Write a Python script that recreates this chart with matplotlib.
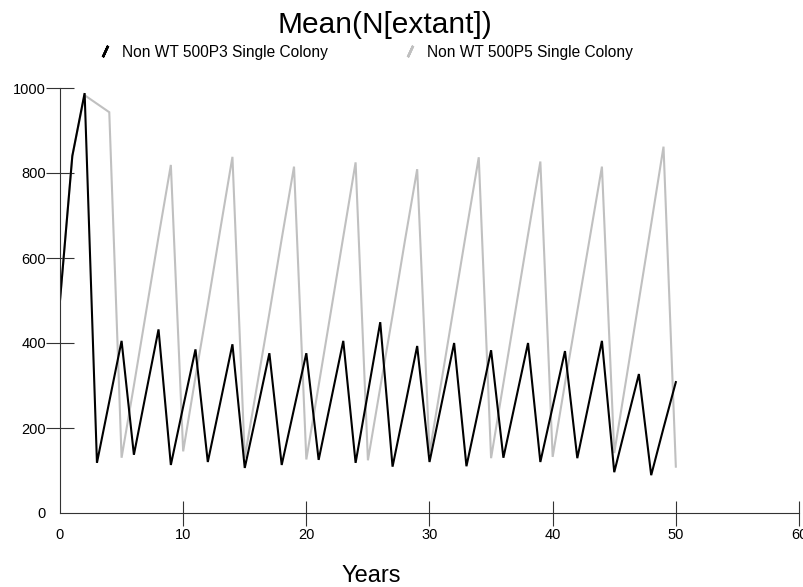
"""
plot.py

Mean(N[extant]) over 50 years for two single-colony runs.
"""

import matplotlib
matplotlib.use("Agg")
import matplotlib.pyplot as plt
from matplotlib.lines import Line2D

#####################################
# Data
#####################################

years = list(range(0, 51))

p3_mean = [500, 840, 988, 118, 262, 405, 137, 285, 432, 113,
           250, 385, 120, 258, 397, 106, 240, 376, 113, 245,
           376, 125, 265, 405, 118, 283, 449, 109, 250, 393,
           120, 260, 400, 110, 246, 383, 130, 265, 400, 120,
           250, 381, 129, 267, 405, 96, 212, 327, 89, 200,
           308]

p5_mean = [500, 840, 983, 963, 943, 130, 300, 475, 650, 819,
           145, 320, 490, 665, 838, 130, 300, 470, 645, 815,
           126, 300, 475, 650, 825, 124, 295, 465, 640, 809,
           141, 315, 490, 665, 837, 129, 305, 480, 655, 827,
           132, 305, 475, 645, 815, 141, 320, 500, 680, 862,
           109]

series_labels = ["Non WT 500P3 Single Colony", "Non WT 500P5 Single Colony"]
x_ticks = [0, 10, 20, 30, 40, 50, 60]
y_ticks = [0, 200, 400, 600, 800, 1000]

BLACK = "#000000"
GREY = "#c0c0c0"
AXIS = "#333333"

plt.rcParams["font.family"] = ["Liberation Sans", "DejaVu Sans"]

#####################################
# Figure
#####################################

W, H = 804, 587
fig = plt.figure(figsize=(W / 100, H / 100), dpi=100)
ax = fig.add_axes([60 / W, (H - 513) / H, (799 - 60) / W, (513 - 88) / H])

# grey first so the black run sits on top
ax.plot(years, p5_mean, color=GREY, lw=1.5, solid_joinstyle="miter")
ax.plot(years, p3_mean, color=BLACK, lw=1.5, solid_joinstyle="miter")

ax.set_xlim(0, 60)
ax.set_ylim(0, 1000)
ax.set_xticks(x_ticks)
ax.set_yticks(y_ticks)

for side in ("top", "right"):
    ax.spines[side].set_visible(False)
for side in ("left", "bottom"):
    ax.spines[side].set_color(AXIS)
    ax.spines[side].set_linewidth(0.8)

ax.tick_params(axis="x", direction="inout", length=18, width=0.8, color=AXIS,
               labelsize=10.5, pad=2)
ax.tick_params(axis="y", direction="inout", length=20, width=0.8, color=AXIS,
               labelsize=10.5, pad=0)

# no tick marks at the origin
ax.xaxis.get_major_ticks()[0].tick1line.set_visible(False)
ax.yaxis.get_major_ticks()[0].tick1line.set_visible(False)

# title and axis label sit left of the axes centre in the original
fig.text(385 / W, 1 - 33 / H, "Mean(N[extant])", ha="center", va="baseline",
         fontsize=21.5)
fig.text(371 / W, 1 - 582 / H, "Years", ha="center", va="baseline", fontsize=17)

# legend: one entry each, slash markers
for label, color, x0 in [(series_labels[0], BLACK, 99), (series_labels[1], GREY, 404)]:
    h = Line2D([], [], ls="none", marker=(2, 2, -25), markersize=9,
               markeredgewidth=1.8, color=color)
    fig.legend([h], [label], loc="center left", bbox_to_anchor=(x0 / W, 1 - 52 / H),
               frameon=False, fontsize=11.2, handlelength=0.75, handletextpad=0.75,
               borderpad=0, borderaxespad=0)

fig.savefig("out.png", dpi=100)
